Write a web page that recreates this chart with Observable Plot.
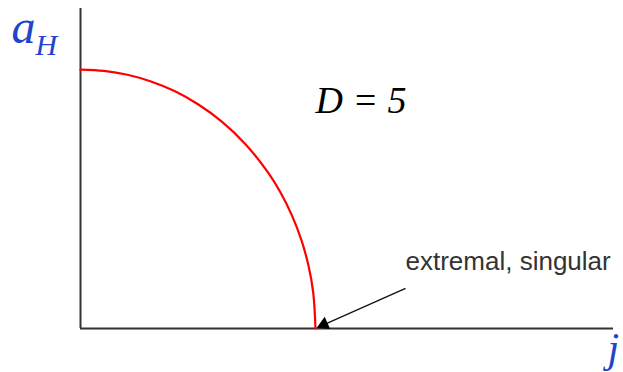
<!DOCTYPE html>
<html>
<head>
<meta charset="utf-8">
<script src="https://cdn.jsdelivr.net/npm/d3@7"></script>
<script src="https://cdn.jsdelivr.net/npm/@observablehq/plot@0.6"></script>
<style>
  html, body { margin: 0; padding: 0; background: #fff; }
  #chart svg { display: block; }
</style>
</head>
<body>
<div id="chart"></div>
<script>
// Values (normalised: j up to 1, a_H up to 1)
const jValues = [0, 0.1, 0.2, 0.3, 0.4, 0.5, 0.6, 0.7, 0.8, 0.85, 0.9, 0.94, 0.97, 0.99, 1];
const aHValues = [1, 0.995, 0.98, 0.954, 0.917, 0.866, 0.8, 0.714, 0.6, 0.527, 0.436, 0.341, 0.243, 0.141, 0];

const xLabel = "j";
const yLabel = "a";
const ySub = "H";
const panelLabel = "D = 5";
const noteLabel = "extremal, singular";
// annotation anchor (text start, arrow tail) and arrow tip in data units
const noteAt = [1.383, 0.225];
const arrowTail = [1.383, 0.155];
const arrowTip = [1.01, 0.004];

const curve = jValues.map((j, i) => ({j, a: aHValues[i]}));
const xMax = 2.268, yMax = 1.236;

const blue = "#2244cc";

const chart = Plot.plot({
  width: 623,
  height: 372,
  marginLeft: 80,
  marginRight: 10,
  marginTop: 8,
  marginBottom: 44,
  x: {domain: [0, xMax], axis: null},
  y: {domain: [0, yMax], axis: null},
  marks: [
    Plot.ruleY([0], {stroke: "#333", strokeWidth: 2}),
    Plot.ruleX([0], {y1: 0, y2: yMax, stroke: "#333", strokeWidth: 2}),
    Plot.line(curve, {x: "j", y: "a", stroke: "#ff0000", strokeWidth: 2.2, curve: "catmull-rom"}),
    Plot.link([{x1: arrowTail[0], y1: arrowTail[1], x2: arrowTip[0], y2: arrowTip[1]}],
      {x1: "x1", y1: "y1", x2: "x2", y2: "y2", stroke: "#111", strokeWidth: 1.3}),
    Plot.dot([{x: arrowTip[0], y: arrowTip[1]}], {x: "x", y: "y", symbol: "triangle", r: 5, fill: "#000", stroke: "none", rotate: -114, dx: 6, dy: -3}),
    Plot.text([panelLabel], {x: 1.0, y: 0.834, textAnchor: "start", lineAnchor: "bottom",
      fontFamily: "Liberation Serif", fontStyle: "italic", fontSize: 38, fill: "#000"}),
    Plot.text([noteLabel], {x: noteAt[0], y: noteAt[1], textAnchor: "start", lineAnchor: "bottom",
      fontFamily: "Liberation Sans", fontSize: 26, fill: "#333"}),
    Plot.text([yLabel], {frameAnchor: "top-left", dx: -69, dy: 34, textAnchor: "start", lineAnchor: "bottom",
      fontFamily: "Liberation Serif", fontStyle: "italic", fontSize: 48, fill: blue}),
    Plot.text([ySub], {frameAnchor: "top-left", dx: -45, dy: 46, textAnchor: "start", lineAnchor: "bottom",
      fontFamily: "Liberation Serif", fontStyle: "italic", fontSize: 30, fill: blue}),
    Plot.text([xLabel], {frameAnchor: "bottom-right", dx: -6, dy: 33, textAnchor: "start", lineAnchor: "bottom",
      fontFamily: "Liberation Serif", fontStyle: "italic", fontSize: 42, fill: blue})
  ]
});
document.getElementById("chart").appendChild(chart);
</script>
</body>
</html>
